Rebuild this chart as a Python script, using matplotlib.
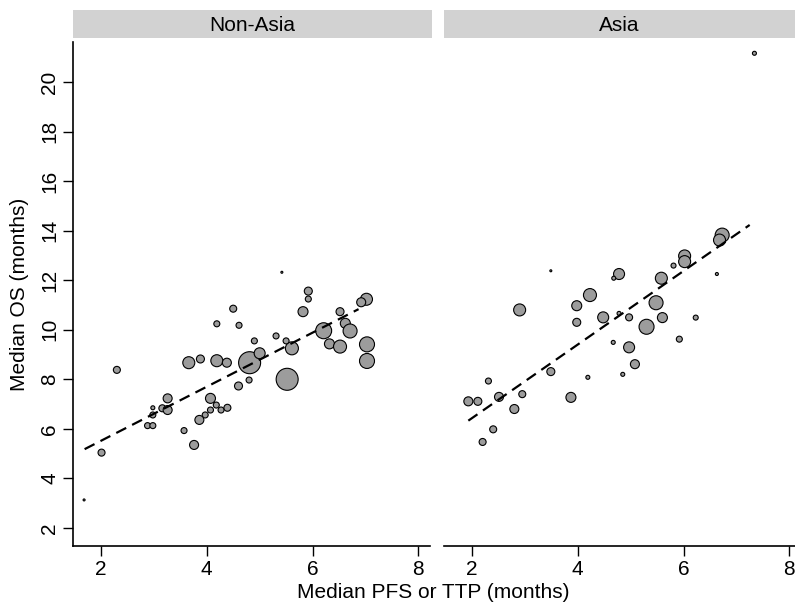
import matplotlib
matplotlib.use('Agg')
import matplotlib.pyplot as plt
import numpy as np

plt.rcParams['font.family'] = ['Liberation Sans', 'DejaVu Sans']

# Non-Asia trials: median PFS/TTP, median OS, marker diameter (px, ~ trial size)
nonasia_pfs = [2.01, 2.30, 2.98, 2.98, 3.16, 3.26, 3.26, 2.88, 2.98, 3.57,
               3.76, 3.66, 3.88, 4.19, 4.38, 4.81, 5.00, 4.90, 4.60, 4.80,
               4.07, 4.18, 4.07, 4.27, 4.39, 3.97, 3.86, 4.50, 4.19, 4.61,
               5.42, 5.92, 5.92, 5.82, 6.52, 7.02, 6.92, 6.62, 6.71, 6.21,
               6.32, 6.52, 7.03, 7.03, 5.61, 5.50, 5.31, 5.52, 1.68]
nonasia_os = [5.04, 8.38, 6.85, 6.56, 6.83, 7.23, 6.76, 6.13, 6.13, 5.93,
              5.35, 8.67, 8.82, 8.75, 8.67, 8.67, 9.05, 9.55, 7.73, 7.97,
              7.23, 6.96, 6.76, 6.76, 6.85, 6.56, 6.36, 10.85, 10.24, 10.18,
              12.32, 11.56, 11.24, 10.73, 10.73, 11.23, 11.11, 10.26, 9.95, 9.96,
              9.43, 9.32, 9.41, 8.74, 9.25, 9.55, 9.75, 8.00, 3.13]
nonasia_size = [8, 8, 5, 7, 8, 10, 10, 7, 7, 7,
                10, 13, 9, 13, 10, 23, 12, 7, 9, 7,
                11, 7, 7, 7, 8, 7, 10, 8, 7, 7,
                3, 9, 7, 11, 9, 13, 10, 11, 15, 17,
                11, 14, 16, 16, 14, 7, 7, 23, 3]

# Asia trials
asia_pfs = [3.49, 4.78, 4.68, 4.23, 2.90, 3.98, 3.98, 4.48, 4.78, 4.97,
            4.67, 4.97, 5.08, 4.85, 3.49, 4.19, 3.87, 2.31, 2.95, 2.51,
            1.93, 2.11, 2.80, 2.40, 2.20, 6.73, 6.68, 6.02, 6.02, 5.81,
            6.63, 5.58, 5.48, 5.60, 5.30, 6.23, 5.92, 7.34]
asia_os = [12.38, 12.25, 12.08, 11.40, 10.80, 10.97, 10.30, 10.50, 10.66, 10.50,
           9.49, 9.29, 8.61, 8.20, 8.31, 8.08, 7.27, 7.93, 7.40, 7.29,
           7.11, 7.11, 6.80, 5.98, 5.47, 13.82, 13.62, 12.98, 12.75, 12.59,
           12.25, 12.08, 11.09, 10.49, 10.12, 10.49, 9.62, 21.16]
asia_size = [3, 12, 5, 14, 13, 11, 9, 12, 5, 8,
             5, 12, 10, 5, 9, 5, 11, 7, 8, 10,
             10, 9, 10, 8, 8, 15, 13, 13, 13, 6,
             4, 13, 15, 11, 16, 6, 7, 5]

# fitted lines: intercept, slope, x range
nonasia_fit = (3.336, 1.091, 1.69, 6.87)
asia_fit = (3.464, 1.485, 1.93, 7.25)

panels = ['Non-Asia', 'Asia']
xticks = [2, 4, 6, 8]
yticks = [2, 4, 6, 8, 10, 12, 14, 16, 18, 20]

fig = plt.figure(figsize=(7.95, 6.02), dpi=100)

ax_l = fig.add_axes([0.0918, 0.093, 0.449, 0.837])
ax_r = fig.add_axes([0.5585, 0.093, 0.449, 0.837])

data = [(ax_l, nonasia_pfs, nonasia_os, nonasia_size, nonasia_fit),
        (ax_r, asia_pfs, asia_os, asia_size, asia_fit)]

for ax, px, py, sz, fit in data:
    d = np.array(sz, dtype=float)
    s = (np.maximum(d - 1, 1.5) * 0.72) ** 2
    ax.scatter(px, py, s=s, facecolor='#9c9c9c', edgecolor='black',
               linewidth=0.8, zorder=3)
    a, b, x0, x1 = fit
    xs = np.array([x0, x1])
    ax.plot(xs, a + b * xs, color='black', lw=1.6, dashes=(5, 3), zorder=4)
    ax.set_xlim(1.47, 8.22)
    ax.set_ylim(1.27, 21.61)
    ax.set_xticks(xticks)
    ax.set_yticks(yticks)
    for sp in ['top', 'right']:
        ax.spines[sp].set_visible(False)
    ax.spines['bottom'].set_linewidth(1.2)
    ax.spines['left'].set_linewidth(1.2)
    ax.tick_params(axis='both', direction='out', length=7, width=1.0,
                   labelsize=15, pad=3)

ax_r.spines['left'].set_visible(False)
ax_r.tick_params(axis='y', left=False, labelleft=False)
ax_l.tick_params(axis='y', labelrotation=90)
for lab in ax_l.get_yticklabels():
    lab.set_va('center')

ax_l.set_ylabel('Median OS (months)', fontsize=15, labelpad=8)
fig.text(0.545, 0.016, 'Median PFS or TTP (months)', fontsize=15,
         ha='center', va='center')

# strip headers
strip_pos = [[0.0918, 0.9369, 0.4516, 0.0465], [0.5585, 0.9369, 0.4415, 0.0465]]
for pos, name in zip(strip_pos, panels):
    st = fig.add_axes(pos)
    st.set_facecolor('#d2d2d2')
    st.set_xticks([])
    st.set_yticks([])
    for sp in st.spines.values():
        sp.set_visible(False)
    st.text(0.5, 0.45, name, transform=st.transAxes, ha='center', va='center',
            fontsize=15)

fig.savefig('out.png', dpi=100)
